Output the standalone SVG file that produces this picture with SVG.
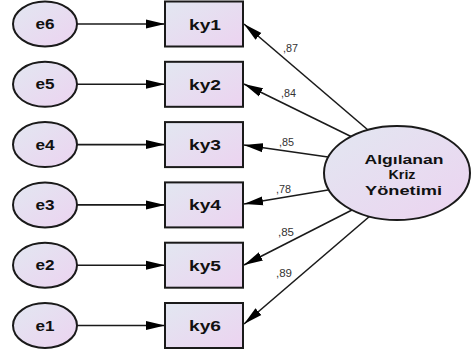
<svg xmlns="http://www.w3.org/2000/svg" width="472" height="354" viewBox="0 0 472 354">
<style>
.shape{fill:url(#g);stroke:#1a1a1a;stroke-width:2}
.lbl{font-family:"Liberation Sans",Arial,sans-serif;font-weight:bold;fill:#111;text-anchor:middle}
.coef{font-family:"Liberation Sans",Arial,sans-serif;font-size:10px;fill:#333}
.con{stroke:#1a1a1a;stroke-width:1.6;fill:none;marker-end:url(#ah)}
</style>
<defs>
<linearGradient id="g" x1="0" y1="0" x2="1" y2="1">
<stop offset="0" stop-color="#e2e7f1"/>
<stop offset="1" stop-color="#ecd3f0"/>
</linearGradient>
<marker id="ah" markerUnits="userSpaceOnUse" markerWidth="20" markerHeight="10" refX="19" refY="5" orient="auto">
<path d="M0,0.5 L19,5 L0,9.5 Z" fill="#000"/>
</marker>
</defs>
<g id="connectors">
<line class="con" x1="77" y1="24" x2="165" y2="24"/>
<line class="con" x1="77" y1="84.3" x2="165" y2="84.3"/>
<line class="con" x1="77" y1="144.6" x2="165" y2="144.6"/>
<line class="con" x1="77" y1="204.9" x2="165" y2="204.9"/>
<line class="con" x1="77" y1="265.2" x2="165" y2="265.2"/>
<line class="con" x1="77" y1="325.5" x2="165" y2="325.5"/>
<line class="con" x1="368" y1="130" x2="244" y2="24"/>
<line class="con" x1="352" y1="137" x2="244" y2="84"/>
<line class="con" x1="328" y1="157" x2="244" y2="145"/>
<line class="con" x1="328" y1="190" x2="244" y2="204"/>
<line class="con" x1="352" y1="210" x2="244" y2="265"/>
<line class="con" x1="370" y1="216" x2="244" y2="324"/>
<text class="coef" x="283" y="52" textLength="15" lengthAdjust="spacingAndGlyphs">,87</text>
<text class="coef" x="281" y="97" textLength="15" lengthAdjust="spacingAndGlyphs">,84</text>
<text class="coef" x="279" y="145.5" textLength="15" lengthAdjust="spacingAndGlyphs">,85</text>
<text class="coef" x="276" y="193" textLength="15" lengthAdjust="spacingAndGlyphs">,78</text>
<text class="coef" x="278" y="236" textLength="16" lengthAdjust="spacingAndGlyphs">,85</text>
<text class="coef" x="276" y="277" textLength="16" lengthAdjust="spacingAndGlyphs">,89</text>
</g>
<g id="e6"><ellipse class="shape" cx="45" cy="24" rx="32" ry="22.5"/><text class="lbl" x="45" y="29" font-size="14" textLength="19" lengthAdjust="spacingAndGlyphs">e6</text></g>
<g id="e5"><ellipse class="shape" cx="45" cy="84.3" rx="32" ry="22.5"/><text class="lbl" x="45" y="89.3" font-size="14" textLength="19" lengthAdjust="spacingAndGlyphs">e5</text></g>
<g id="e4"><ellipse class="shape" cx="45" cy="144.6" rx="32" ry="22.5"/><text class="lbl" x="45" y="149.6" font-size="14" textLength="19" lengthAdjust="spacingAndGlyphs">e4</text></g>
<g id="e3"><ellipse class="shape" cx="45" cy="204.9" rx="32" ry="22.5"/><text class="lbl" x="45" y="209.9" font-size="14" textLength="19" lengthAdjust="spacingAndGlyphs">e3</text></g>
<g id="e2"><ellipse class="shape" cx="45" cy="265.2" rx="32" ry="22.5"/><text class="lbl" x="45" y="270.2" font-size="14" textLength="19" lengthAdjust="spacingAndGlyphs">e2</text></g>
<g id="e1"><ellipse class="shape" cx="45" cy="325.5" rx="32" ry="22.5"/><text class="lbl" x="45" y="330.5" font-size="14" textLength="19" lengthAdjust="spacingAndGlyphs">e1</text></g>
<g id="ky1"><rect class="shape" x="165" y="1.5" width="78" height="45"/><text class="lbl" x="205" y="29.5" font-size="15" textLength="32" lengthAdjust="spacingAndGlyphs">ky1</text></g>
<g id="ky2"><rect class="shape" x="165" y="61.8" width="78" height="45"/><text class="lbl" x="205" y="89.8" font-size="15" textLength="32" lengthAdjust="spacingAndGlyphs">ky2</text></g>
<g id="ky3"><rect class="shape" x="165" y="122.1" width="78" height="45"/><text class="lbl" x="205" y="150.1" font-size="15" textLength="32" lengthAdjust="spacingAndGlyphs">ky3</text></g>
<g id="ky4"><rect class="shape" x="165" y="182.4" width="78" height="45"/><text class="lbl" x="205" y="210.4" font-size="15" textLength="32" lengthAdjust="spacingAndGlyphs">ky4</text></g>
<g id="ky5"><rect class="shape" x="165" y="242.7" width="78" height="45"/><text class="lbl" x="205" y="270.7" font-size="15" textLength="32" lengthAdjust="spacingAndGlyphs">ky5</text></g>
<g id="ky6"><rect class="shape" x="165" y="303" width="78" height="45"/><text class="lbl" x="205" y="331" font-size="15" textLength="32" lengthAdjust="spacingAndGlyphs">ky6</text></g>
<g id="algilanan"><ellipse class="shape" cx="397" cy="173" rx="73" ry="47"/>
<text class="lbl" x="404" y="163.5" font-size="13.5" textLength="79" lengthAdjust="spacingAndGlyphs">Algılanan</text>
<text class="lbl" x="402" y="179" font-size="13.5" textLength="27" lengthAdjust="spacingAndGlyphs">Kriz</text>
<text class="lbl" x="403.5" y="194.5" font-size="13.5" textLength="77" lengthAdjust="spacingAndGlyphs">Yönetimi</text>
</g>
</svg>
